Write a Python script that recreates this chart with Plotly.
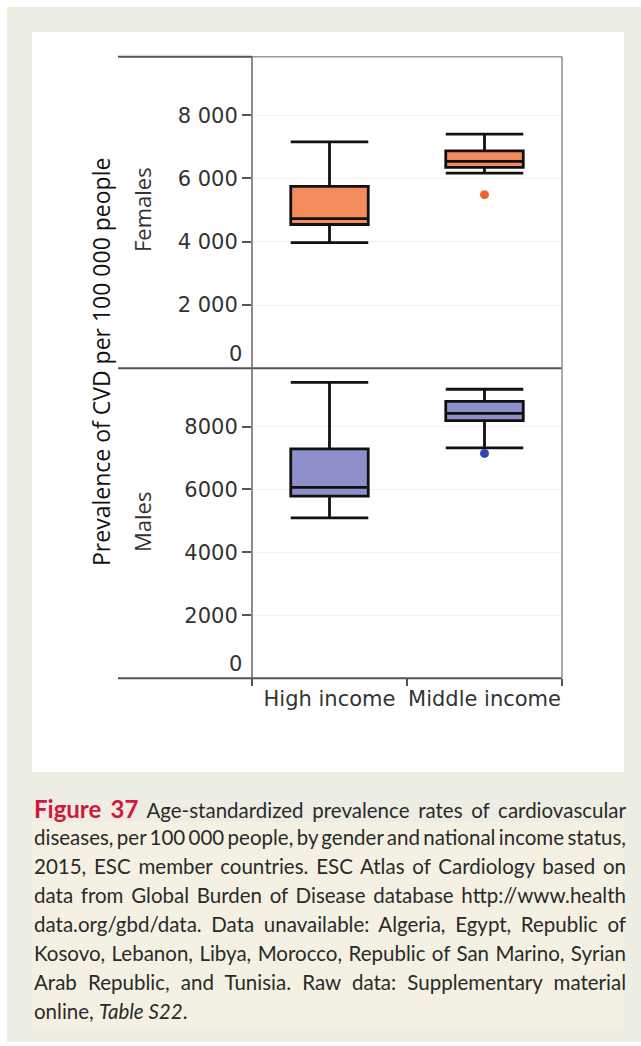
import plotly.graph_objects as go

# ---- data -------------------------------------------------------------
income_groups = ["High income", "Middle income"]

# Females (per 100 000 people)
fem_lower = [3970, 6170]
fem_q1 = [4545, 6350]
fem_median = [4730, 6540]
fem_q3 = [5750, 6875]
fem_upper = [7160, 7405]
fem_outlier_x = ["Middle income"]
fem_outlier_y = [5490]

# Males (per 100 000 people)
male_lower = [5100, 7320]
male_q1 = [5790, 8190]
male_median = [6065, 8420]
male_q3 = [7290, 8800]
male_upper = [9405, 9185]
male_outlier_x = ["Middle income"]
male_outlier_y = [7145]

fem_ticks = [2000, 4000, 6000, 8000]
fem_ticktext = ["2 000", "4 000", "6 000", "8 000"]
male_ticks = [2000, 4000, 6000, 8000]
male_ticktext = ["2000", "4000", "6000", "8000"]

caption_lines = [
    "<b><span style='color:#D2173F;font-size:24px'>Figure 37</span></b> Age-standardized prevalence rates of cardiovascular",
    "diseases, per 100 000 people, by gender and national income status,",
    "2015, ESC member countries. ESC Atlas of Cardiology based on",
    "data from Global Burden of Disease database http://www.health",
    "data.org/gbd/data. Data unavailable: Algeria, Egypt, Republic of",
    "Kosovo, Lebanon, Libya, Morocco, Republic of San Marino, Syrian",
    "Arab Republic, and Tunisia. Raw data: Supplementary material",
    "online, <i>Table S22</i>.",
]

# ---- layout helpers (pixel -> paper) ------------------------------------
W, H = 641, 1046


def px(x):
    return x / W


def py(y):
    return 1 - y / H


X0, X1 = 252, 562
Y_TOP, Y_MID, Y_BOT = 56.7, 368.3, 678.3
Y_MAX = 9850
CAP_LEFT, CAP_RIGHT = 32, 624

FEM_FILL = "#F38B5C"
FEM_DOT = "#EE6436"
MALE_FILL = "#8F8FCA"
MALE_DOT = "#3447B0"

fig = go.Figure()

box_line = dict(color="#111111", width=2.8)

fig.add_trace(go.Box(
    x=income_groups, q1=fem_q1, median=fem_median, q3=fem_q3,
    lowerfence=fem_lower, upperfence=fem_upper,
    fillcolor=FEM_FILL, line=box_line, width=0.5, whiskerwidth=1,
    boxpoints=False, xaxis="x", yaxis="y", showlegend=False,
))
fig.add_trace(go.Scatter(
    x=fem_outlier_x, y=fem_outlier_y, mode="markers",
    marker=dict(color=FEM_DOT, size=9), xaxis="x", yaxis="y", showlegend=False,
))
fig.add_trace(go.Box(
    x=income_groups, q1=male_q1, median=male_median, q3=male_q3,
    lowerfence=male_lower, upperfence=male_upper,
    fillcolor=MALE_FILL, line=box_line, width=0.5, whiskerwidth=1,
    boxpoints=False, xaxis="x2", yaxis="y2", showlegend=False,
))
fig.add_trace(go.Scatter(
    x=male_outlier_x, y=male_outlier_y, mode="markers",
    marker=dict(color=MALE_DOT, size=9), xaxis="x2", yaxis="y2", showlegend=False,
))

tick_font = dict(family="DejaVu Sans", size=21, color="#333333")

yaxis_common = dict(
    range=[0, Y_MAX], showgrid=True, gridcolor="#F1F1F1", gridwidth=1,
    zeroline=False, ticks="outside", ticklen=9, tickcolor="#555555",
    tickwidth=1.5, showline=False, tickfont=tick_font, fixedrange=True,
    ticklabelstandoff=0, automargin=False,
)

fig.update_layout(
    width=W, height=H,
    margin=dict(l=0, r=0, t=0, b=0, autoexpand=False),
    paper_bgcolor="white", plot_bgcolor="white",
    xaxis=dict(domain=[px(X0), px(X1)], anchor="y", showticklabels=False,
               showgrid=False, zeroline=False, showline=False, ticks="",
               type="category", range=[-0.5, 1.5], automargin=False),
    yaxis=dict(domain=[py(Y_MID), py(Y_TOP)], anchor="x",
               tickvals=fem_ticks, ticktext=fem_ticktext, **yaxis_common),
    xaxis2=dict(domain=[px(X0), px(X1)], anchor="y2", type="category",
                range=[-0.5, 1.5], showgrid=False, zeroline=False,
                showline=False, ticks="outside", tickson="boundaries",
                ticklen=7, tickwidth=1.5, tickcolor="#555555",
                tickfont=tick_font, tickangle=0, ticklabelstandoff=6,
                automargin=False),
    yaxis2=dict(domain=[py(Y_BOT), py(Y_MID)], anchor="x2",
                tickvals=male_ticks, ticktext=male_ticktext, **yaxis_common),
)

shapes = [
    # page background, white figure panel and caption highlight
    dict(type="rect", xref="paper", yref="paper", x0=px(7), x1=px(641),
         y0=py(1042), y1=py(7), fillcolor="#EEEDE4", line_width=0, layer="below"),
    dict(type="rect", xref="paper", yref="paper", x0=px(CAP_LEFT), x1=px(CAP_RIGHT),
         y0=py(772), y1=py(32), fillcolor="white", line_width=0, layer="below"),
    dict(type="rect", xref="paper", yref="paper", x0=px(CAP_LEFT), x1=px(CAP_RIGHT),
         y0=py(1028), y1=py(822), fillcolor="#F4F1E3", line_width=0, layer="below"),
    # frame lines
    dict(type="line", xref="paper", yref="paper", x0=px(118), x1=px(X0),
         y0=py(Y_TOP), y1=py(Y_TOP), line=dict(color="#555555", width=2)),
    dict(type="line", xref="paper", yref="paper", x0=px(X0), x1=px(X1),
         y0=py(Y_TOP), y1=py(Y_TOP), line=dict(color="#9A9A9A", width=1.5)),
    dict(type="line", xref="paper", yref="paper", x0=px(118), x1=px(X1),
         y0=py(Y_MID), y1=py(Y_MID), line=dict(color="#555555", width=2)),
    dict(type="line", xref="paper", yref="paper", x0=px(118), x1=px(X1),
         y0=py(Y_BOT), y1=py(Y_BOT), line=dict(color="#555555", width=2)),
    dict(type="line", xref="paper", yref="paper", x0=px(X0), x1=px(X0),
         y0=py(Y_BOT), y1=py(Y_TOP), line=dict(color="#666666", width=1.5)),
    dict(type="line", xref="paper", yref="paper", x0=px(X1), x1=px(X1),
         y0=py(Y_BOT), y1=py(Y_TOP), line=dict(color="#8C8C8C", width=1.5)),
]
fig.update_layout(shapes=shapes)

annotations = [
    dict(text="Prevalence of CVD per 100 000 people", textangle=-90,
         x=px(101), y=py(362), xref="paper", yref="paper", showarrow=False,
         xanchor="center", yanchor="middle",
         font=dict(family="Open Sans", size=23, color="#111111")),
    dict(text="Females", textangle=-90, x=px(142), y=py(210),
         xref="paper", yref="paper", showarrow=False,
         xanchor="center", yanchor="middle",
         font=dict(family="Open Sans", size=22, color="#333333")),
    dict(text="Males", textangle=-90, x=px(142), y=py(522),
         xref="paper", yref="paper", showarrow=False,
         xanchor="center", yanchor="middle",
         font=dict(family="Open Sans", size=22, color="#333333")),
    # zero labels sit a little above the baseline
    dict(text="0", x=px(244), y=0, xref="paper", yref="y", xanchor="right",
         yshift=14, showarrow=False, font=tick_font),
    dict(text="0", x=px(244), y=0, xref="paper", yref="y2", xanchor="right",
         yshift=14, showarrow=False, font=tick_font),
]
n_fixed = len(annotations)

line_y0, line_step = 808, 29
for i, line in enumerate(caption_lines):
    annotations.append(dict(
        text=line, x=px(CAP_LEFT), y=py(line_y0 + i * line_step), xref="paper",
        yref="paper", xanchor="left", yanchor="middle", align="left",
        showarrow=False,
        font=dict(family="Lato", size=20.5, color="#2A2A2A"),
    ))
fig.update_layout(annotations=annotations)

# Justify every caption line except the last one to the caption width.
justify_js = """
(function () {
  var gd = document.querySelector('.plotly-graph-div');
  var first = %d, last = %d, target = %d;
  function justify() {
    gd.querySelectorAll('g.annotation').forEach(function (g) {
      var idx = +g.getAttribute('data-index');
      if (idx < first || idx >= last) return;
      var t = g.querySelector('text.annotation-text');
      if (!t) return;
      t.style.wordSpacing = '0px';
      var w = t.getComputedTextLength();
      var n = (t.textContent.match(/ /g) || []).length;
      if (n > 0) t.style.wordSpacing = ((target - w) / n) + 'px';
    });
  }
  justify();
  gd.on('plotly_afterplot', justify);
})();
""" % (n_fixed, n_fixed + len(caption_lines) - 1, CAP_RIGHT - CAP_LEFT)

fig.write_html("out.html", post_script=justify_js)
